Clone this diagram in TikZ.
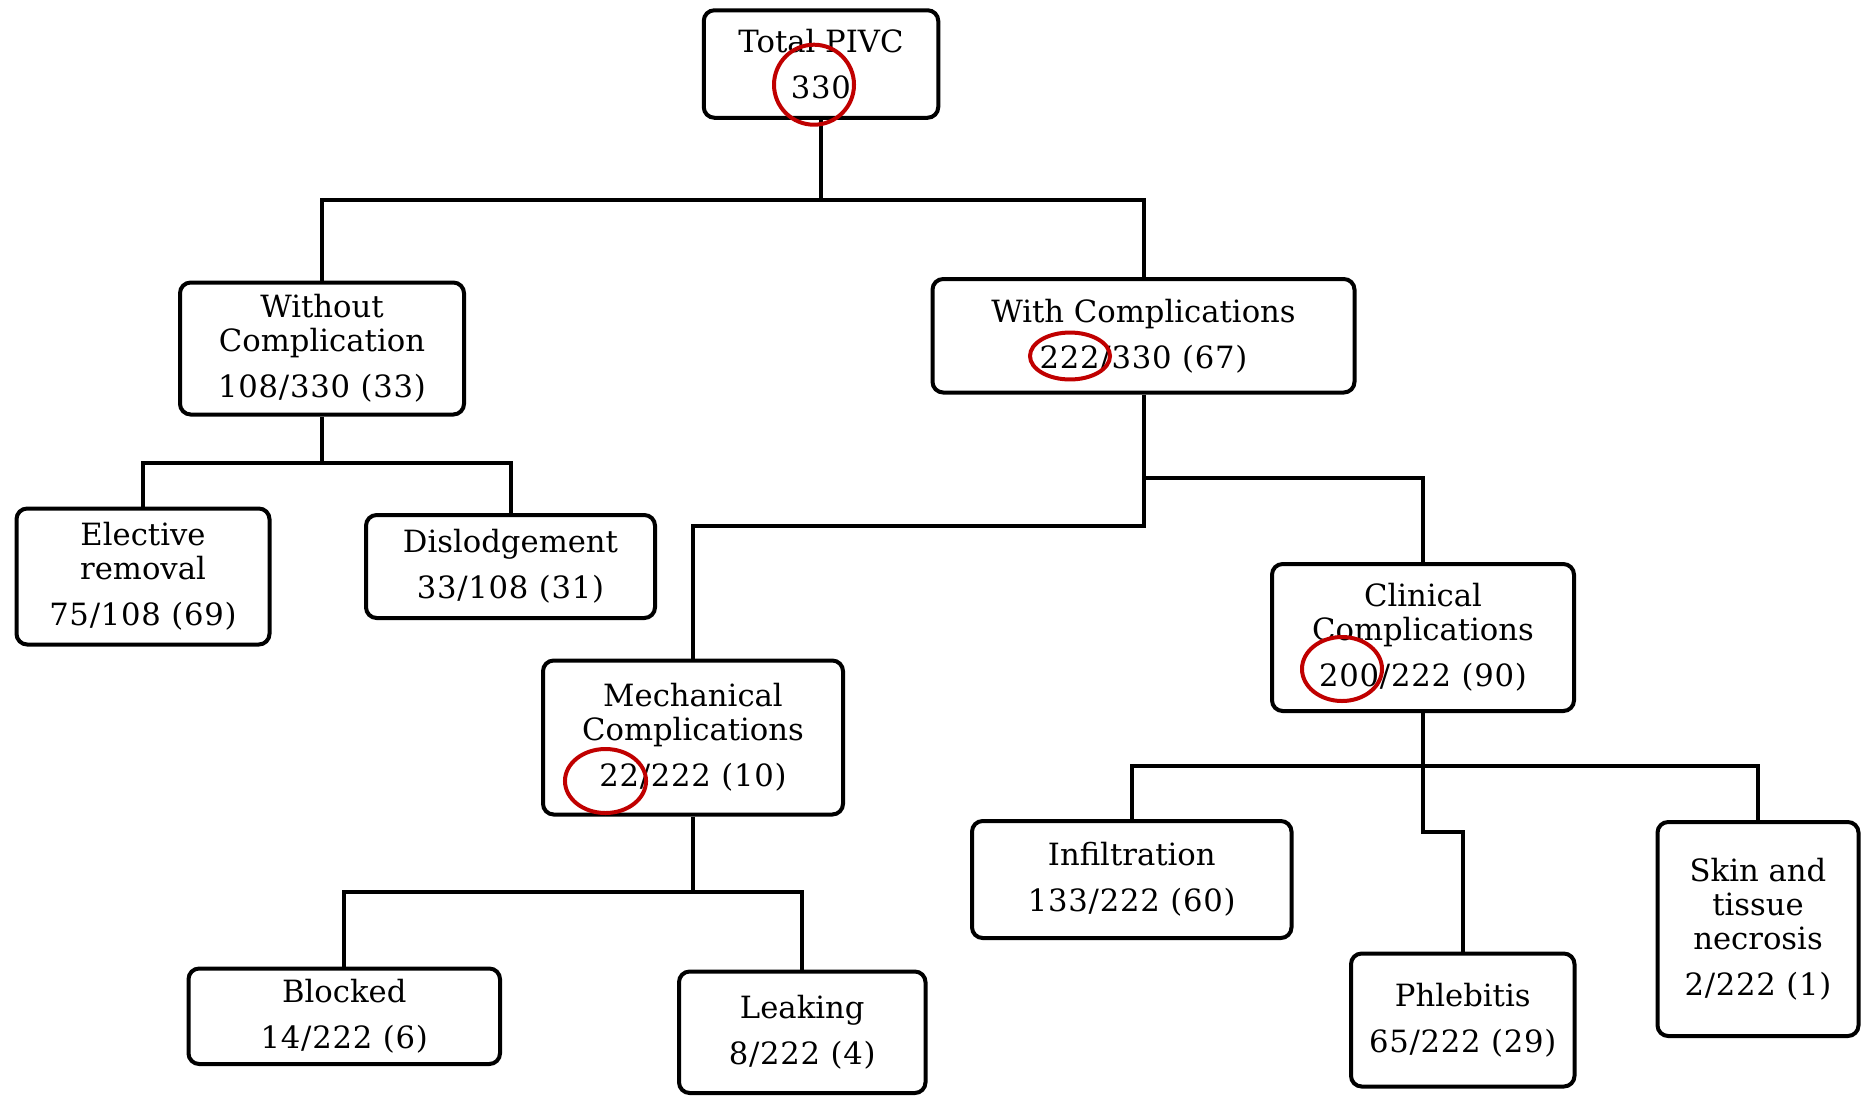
\documentclass[tikz,border=0pt]{standalone}
\usepackage{fontspec}
\setmainfont{DejaVu Serif}
\newfontfamily\numfont{DejaVu Serif}[LetterSpace=2.5]
\definecolor{cred}{RGB}{192,0,0}
\begin{document}
\begin{tikzpicture}[x=0.75pt,y=-0.75pt,
  box/.style={draw=black, line width=3pt, rounded corners=8pt, align=center, inner sep=0pt,
    font=\fontsize{23}{25.5}\selectfont},
  sz/.style 2 args={minimum width=#1*0.75pt, minimum height=#2*0.75pt},
  conn/.style={draw=black, line width=3pt},
  hl/.style={draw=cred, line width=3pt}]
\useasboundingbox (0,0) rectangle (1862,1097);

\node[box, sz={234.5}{107.5}] (total) at (821,64) {Total PIVC\\[9pt]{\numfont 330}};
\node[box, sz={284}{132}] (wo) at (322,348.5) {Without\\Complication\\[9pt]{\numfont 108/330 (33)}};
\node[box, sz={422}{113.5}] (wc) at (1143.5,335.75) {With Complications\\[9pt]{\numfont 222/330 (67)}};
\node[box, sz={253}{136}] (el) at (143,576.5) {Elective\\removal\\[9pt]{\numfont 75/108 (69)}};
\node[box, sz={289}{103}] (di) at (510.5,566.5) {Dislodgement\\[9pt]{\numfont 33/108 (31)}};
\node[box, sz={302}{147}] (cc) at (1423,637.5) {Clinical\\Complications\\[9pt]{\numfont 200/222 (90)}};
\node[box, sz={300}{154}] (mc) at (693,737.5) {Mechanical\\Complications\\[9pt]{\numfont 22/222 (10)}};
\node[box, sz={319.5}{117}] (inf) at (1131.75,879.5) {Infiltration\\[9pt]{\numfont 133/222 (60)}};
\node[box, sz={201}{214}] (sk) at (1758,929) {Skin and\\tissue\\necrosis\\[9pt]{\numfont 2/222 (1)}};
\node[box, sz={223.5}{133}] (ph) at (1462.75,1020) {Phlebitis\\[9pt]{\numfont 65/222 (29)}};
\node[box, sz={311.5}{95.5}] (bl) at (344.25,1016.25) {Blocked\\[9pt]{\numfont 14/222 (6)}};
\node[box, sz={246.5}{121.5}] (lk) at (802.25,1032.25) {Leaking\\[9pt]{\numfont 8/222 (4)}};

\coordinate (j1) at (total.south |- 0,199.5);
\coordinate (j2) at (wo.south |- 0,462.5);
\coordinate (j3) at (wc.south |- 0,526);
\coordinate (j4) at (wc.south |- 0,478);
\coordinate (j5) at (mc.south |- 0,892);
\coordinate (j6) at (cc.south |- 0,765.5);
\coordinate (j7) at (cc.south |- 0,832);

\draw[conn] (total.south) -- (j1);
\draw[conn] (j1) -| (wo.north);
\draw[conn] (j1) -| (wc.north);
\draw[conn] (wo.south) -- (j2) -| (el.north);
\draw[conn] (j2) -| (di.north);
\draw[conn] (wc.south) -- (j3) -| (mc.north);
\draw[conn] (j4) -| (cc.north);
\draw[conn] (mc.south) -- (j5) -| (bl.north);
\draw[conn] (j5) -| (lk.north);
\draw[conn] (cc.south) -- (j7) -| (ph.north);
\draw[conn] (j6) -| (inf.north);
\draw[conn] (j6) -| (sk.north);

\draw[hl] (814,84.7) ellipse [x radius=30pt, y radius=30pt];
\draw[hl] (1070,356) ellipse [x radius=30pt, y radius=17.6pt];
\draw[hl] (1342,669) ellipse [x radius=30pt, y radius=24pt];
\draw[hl] (605.5,781) ellipse [x radius=30.4pt, y radius=24pt];
\end{tikzpicture}
\end{document}
